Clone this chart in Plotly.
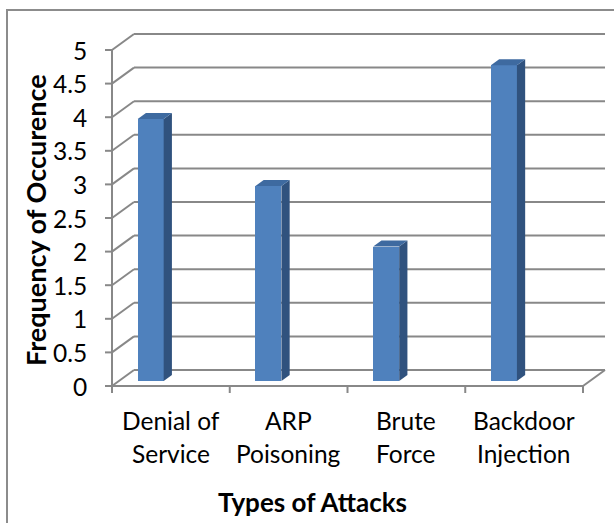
import plotly.graph_objects as go

# ---- data ----
categories_line1 = ["Denial of", "ARP", "Brute", "Backdoor"]
categories_line2 = ["Service", "Poisoning", "Force", "Injection"]
frequency = [3.9, 2.9, 2.0, 4.7]
y_ticks = [0, 0.5, 1, 1.5, 2, 2.5, 3, 3.5, 4, 4.5, 5]
y_tick_text = ["0", "0.5", "1", "1.5", "2", "2.5", "3", "3.5", "4", "4.5", "5"]
y_title = "Frequency of Occurence"
x_title = "Types of Attacks"

# ---- canvas / scale setup ----
W, H = 614, 523
PX_X = 117.75          # pixels per category
PX_Y = 67.2            # pixels per unit of frequency
X0_PX, Y0_PX = 112, 386  # pixel position of (category edge -0.5, value 0)

x_range = [-0.5 - X0_PX / PX_X, -0.5 + (W - X0_PX) / PX_X]
y_range = [-(H - Y0_PX) / PX_Y, Y0_PX / PX_Y]

def dxp(p):  # pixels -> x data units
    return p / PX_X

def dyp(p):  # pixels -> y data units
    return p / PX_Y

# 3-D depth of the walls (front plane -> back wall)
DEPTH_X = dxp(22)
DEPTH_Y = dyp(16)
BAR_FRONT = 5 / 16     # relative depth of bar front face
BAR_BACK = 11 / 16     # relative depth of bar back face
BAR_W = dxp(26)
BAR_SHIFT = -0.23      # bar centre relative to category centre (front plane)

GRID = "#888888"
FRONT = "#4F81BD"
SIDE = "#30527E"
TOP = "#3E6AA0"
FONT = "Lato"
TICK_SIZE = 24.5

fig = go.Figure()
shapes = []

def seg(x0, y0, x1, y1, color=GRID, width=2):
    shapes.append(dict(type="line", xref="x", yref="y", x0=x0, y0=y0, x1=x1, y1=y1,
                       line=dict(color=color, width=width), layer="below"))

x_left, x_right = -0.5, len(categories_line1) - 0.5

# back wall gridlines and side wall diagonals
for v in y_ticks:
    seg(x_left + DEPTH_X, v + DEPTH_Y, x_right + DEPTH_X, v + DEPTH_Y)
    seg(x_left, v, x_left + DEPTH_X, v + DEPTH_Y)
    # tick marks on the front value axis
    seg(x_left - dxp(7), v, x_left, v)

# floor right edge, front axis lines
seg(x_right, 0, x_right + DEPTH_X, DEPTH_Y)
seg(x_left, 0, x_right, 0)
seg(x_left, 0, x_left, y_ticks[-1])

# category boundary tick marks
for k in range(len(categories_line1) + 1):
    b = x_left + k
    seg(b, 0, b, -dyp(7))

# ---- bars: front faces ----
fx = BAR_FRONT * DEPTH_X
fy = BAR_FRONT * DEPTH_Y
ddx = (BAR_BACK - BAR_FRONT) * DEPTH_X
ddy = (BAR_BACK - BAR_FRONT) * DEPTH_Y

bar_x = [i + BAR_SHIFT + fx for i in range(len(frequency))]
fig.add_trace(go.Bar(
    x=bar_x, y=frequency, base=fy, width=BAR_W,
    marker=dict(color=FRONT, line=dict(width=0)),
    hoverinfo="skip", showlegend=False,
))

# side and top faces derived from the same values
for xc, v in zip(bar_x, frequency):
    xl, xr = xc - BAR_W / 2, xc + BAR_W / 2
    top = v + fy
    fig.add_trace(go.Scatter(
        x=[xr, xr, xr + ddx, xr + ddx, xr], y=[fy, top, top + ddy, fy + ddy, fy],
        fill="toself", fillcolor=SIDE, mode="lines", line=dict(width=0),
        hoverinfo="skip", showlegend=False))
    fig.add_trace(go.Scatter(
        x=[xl, xr, xr + ddx, xl + ddx, xl], y=[top, top, top + ddy, top + ddy, top],
        fill="toself", fillcolor=TOP, mode="lines", line=dict(width=0),
        hoverinfo="skip", showlegend=False))

# ---- text ----
ann = []
for v, t in zip(y_ticks, y_tick_text):
    ann.append(dict(x=x_left - dxp(23), y=v, xref="x", yref="y", text=t,
                    showarrow=False, xanchor="right", yanchor="middle",
                    font=dict(family=FONT, size=TICK_SIZE, color="#000")))
for i, (l1, l2) in enumerate(zip(categories_line1, categories_line2)):
    ann.append(dict(x=i, y=-dyp(34), xref="x", yref="y", text=l1, showarrow=False,
                    xanchor="center", yanchor="middle",
                    font=dict(family=FONT, size=TICK_SIZE, color="#000")))
    ann.append(dict(x=i, y=-dyp(67), xref="x", yref="y", text=l2, showarrow=False,
                    xanchor="center", yanchor="middle",
                    font=dict(family=FONT, size=TICK_SIZE, color="#000")))
ann.append(dict(x=35 / W, y=1 - 220 / H, xref="paper", yref="paper", text=f"<b>{y_title}</b>",
                showarrow=False, textangle=-90, xanchor="center", yanchor="middle",
                font=dict(family=FONT, size=27, color="#000")))
ann.append(dict(x=312 / W, y=1 - 502 / H, xref="paper", yref="paper", text=f"<b>{x_title}</b>",
                showarrow=False, xanchor="center", yanchor="middle",
                font=dict(family=FONT, size=26, color="#000")))

# chart frame
shapes.append(dict(type="rect", xref="paper", yref="paper", x0=7 / W, y0=-0.1, x1=1.1, y1=1 - 10 / H,
                   line=dict(color="#8C8C8C", width=2), fillcolor="rgba(0,0,0,0)", layer="below"))

fig.update_layout(
    width=W, height=H, margin=dict(l=0, r=0, t=0, b=0),
    paper_bgcolor="white", plot_bgcolor="white",
    xaxis=dict(range=x_range, visible=False, fixedrange=True),
    yaxis=dict(range=y_range, visible=False, fixedrange=True),
    shapes=shapes, annotations=ann, bargap=0, showlegend=False,
)

fig.write_html("out.html")
